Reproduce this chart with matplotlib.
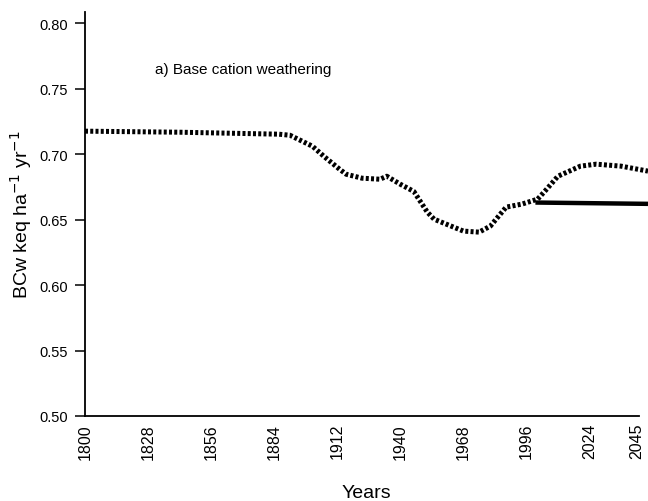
import numpy as np
import matplotlib.pyplot as plt

plt.rcParams['font.family'] = ['Liberation Sans', 'DejaVu Sans']

# simulated base cation weathering (dotted line)
years = [1800, 1842, 1886, 1891, 1901, 1906, 1913, 1916, 1923, 1931, 1934,
         1940, 1946, 1952, 1955, 1968, 1975, 1980, 1987, 1994, 2001, 2005,
         2010, 2020, 2027, 2038, 2050]
bcw = [0.7175, 0.7167, 0.7152, 0.7144, 0.7060, 0.6984, 0.6885, 0.6846,
       0.6816, 0.6808, 0.6831, 0.6770, 0.6715, 0.6557, 0.6503, 0.6412,
       0.6404, 0.6450, 0.6595, 0.6618, 0.6656, 0.6732, 0.6831, 0.6908,
       0.6923, 0.6908, 0.6870]

# constant scenario (solid line)
years_const = [2000, 2050]
bcw_const = [0.663, 0.662]

xtick_years = [1800, 1828, 1856, 1884, 1912, 1940, 1968, 1996, 2024, 2045]
yticks = [0.50, 0.55, 0.60, 0.65, 0.70, 0.75, 0.80]

fig = plt.figure(figsize=(6.48, 5.02), dpi=100)
ax = fig.add_axes([85 / 648, 1 - 417 / 502, 563 / 648, 404 / 502])

ax.plot(years, bcw, color='black', lw=3.6,
        linestyle=(0, (0.6, 0.45)), dash_capstyle='butt', clip_on=False)
ax.plot(years_const, bcw_const, color='black', lw=3.2,
        solid_capstyle='butt', clip_on=False)

ax.set_xlim(1800, 2050)
ax.set_ylim(0.50, 0.8085)

ax.set_xticks(xtick_years)
ax.set_xticklabels([str(y) for y in xtick_years], rotation=90, fontsize=11.5)
ax.set_yticks(yticks)
ax.set_yticklabels(['%.2f' % v for v in yticks], fontsize=10.5)
ax.tick_params(axis='x', length=0, pad=5)
ax.tick_params(axis='y', length=7, width=1.1, direction='out', pad=5)

for side in ['top', 'right']:
    ax.spines[side].set_visible(False)
for side in ['left', 'bottom']:
    ax.spines[side].set_linewidth(1.3)
ax.spines['bottom'].set_bounds(1800, 2046)

ax.set_xlabel('Years', fontsize=14, labelpad=18)
ax.set_ylabel(r'BCw keq ha$^{-1}$ yr$^{-1}$', fontsize=14, labelpad=4)

ax.text(1831, 0.765, 'a) Base cation weathering', fontsize=11,
        ha='left', va='center')

fig.savefig('out.png', dpi=100)
